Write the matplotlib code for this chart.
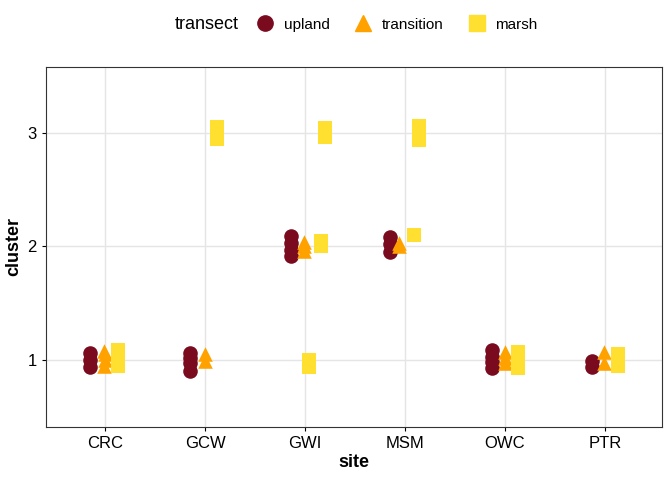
import matplotlib
matplotlib.use("Agg")
import matplotlib.pyplot as plt
from matplotlib.lines import Line2D
from matplotlib.offsetbox import HPacker

plt.rcParams["font.family"] = ["Liberation Sans", "DejaVu Sans"]

sites = ["CRC", "GCW", "GWI", "MSM", "OWC", "PTR"]
transects = ["upland", "transition", "marsh"]
colors = {"upland": "#7a0a1e", "transition": "#ffa200", "marsh": "#ffe030"}
markers = {"upland": "o", "transition": "^", "marsh": "s"}

# observations: site, transect, horizontal jitter, jittered cluster value
obs_site = (["CRC"]*11 + ["GCW"]*9 + ["GWI"]*14 + ["MSM"]*9 + ["OWC"]*10 + ["PTR"]*7)
obs_transect = (
    ["upland"]*3 + ["transition"]*4 + ["marsh"]*4 +
    ["upland"]*4 + ["transition"]*2 + ["marsh"]*3 +
    ["upland"]*4 + ["transition"]*3 + ["marsh"]*7 +
    ["upland"]*3 + ["transition"]*2 + ["marsh"]*4 +
    ["upland"]*4 + ["transition"]*3 + ["marsh"]*3 +
    ["upland"]*2 + ["transition"]*2 + ["marsh"]*3)
obs_dx = (
    [-0.15,-0.15,-0.15, -0.01,0.0,0.0,-0.01, 0.13,0.13,0.13,0.13] +
    [-0.15,-0.15,-0.15,-0.15, 0.0,0.0, 0.12,0.12,0.12] +
    [-0.14,-0.14,-0.14,-0.14, -0.01,-0.01,-0.01, 0.16,0.16, 0.04,0.04, 0.2,0.2,0.2] +
    [-0.15,-0.15,-0.15, -0.06,-0.06, 0.09, 0.14,0.14,0.14] +
    [-0.13,-0.13,-0.13,-0.13, 0.0,0.0,0.0, 0.13,0.13,0.13] +
    [-0.13,-0.13, -0.01,-0.01, 0.13,0.13,0.13])
obs_y = (
    [0.94,1.0,1.06, 0.95,1.0,1.05,1.08, 0.95,1.0,1.05,1.09] +
    [0.9,0.97,1.02,1.06, 0.99,1.05, 2.95,3.0,3.05] +
    [1.92,1.97,2.03,2.09, 1.96,2.0,2.04, 2.0,2.05, 0.94,1.0, 2.96,3.0,3.04] +
    [1.95,2.02,2.08, 2.0,2.03, 2.1, 2.94,3.0,3.06] +
    [0.93,0.98,1.03,1.09, 0.97,1.02,1.07, 0.93,1.0,1.07] +
    [0.94,0.99, 0.97,1.07, 0.95,1.0,1.05])

fig = plt.figure(figsize=(6.72, 4.8), dpi=100)
ax = fig.add_axes([46/672, 53/480, 616/672, 360/480])
for t in transects:
    xs = [sites.index(s) + 1 + dx for s, tt, dx in zip(obs_site, obs_transect, obs_dx) if tt == t]
    ys = [y for tt, y in zip(obs_transect, obs_y) if tt == t]
    ax.scatter(xs, ys, c=colors[t], marker=markers[t], s=110, linewidths=0, zorder=3)

ax.set_xlim(0.41, 6.57)
ax.set_ylim(0.41, 3.58)
ax.set_xticks(range(1, 7))
ax.set_xticklabels(sites)
ax.set_yticks([1, 2, 3])
ax.grid(True, color="#e5e5e5", linewidth=1)
ax.set_axisbelow(True)
for sp in ax.spines.values():
    sp.set_color("#333333")
ax.tick_params(labelsize=12, colors="black", length=3)
ax.set_xlabel("site", fontsize=13, fontweight="bold", labelpad=2)
ax.set_ylabel("cluster", fontsize=13, fontweight="bold")

handles = [Line2D([], [], linestyle="", marker=markers[t], color=colors[t], markersize=11) for t in transects]
leg = fig.legend(handles, transects, loc="upper center", bbox_to_anchor=(0.53, 0.995), ncol=3,
                 frameon=False, title="transect", fontsize=11, title_fontsize=13,
                 handletextpad=0.2, columnspacing=1.2)
title = leg._legend_title_box
entries = leg._legend_handle_box
leg._legend_box._children = [HPacker(pad=0, sep=8, children=[title, entries], align="center")]
fig.savefig("out.png", dpi=100)
